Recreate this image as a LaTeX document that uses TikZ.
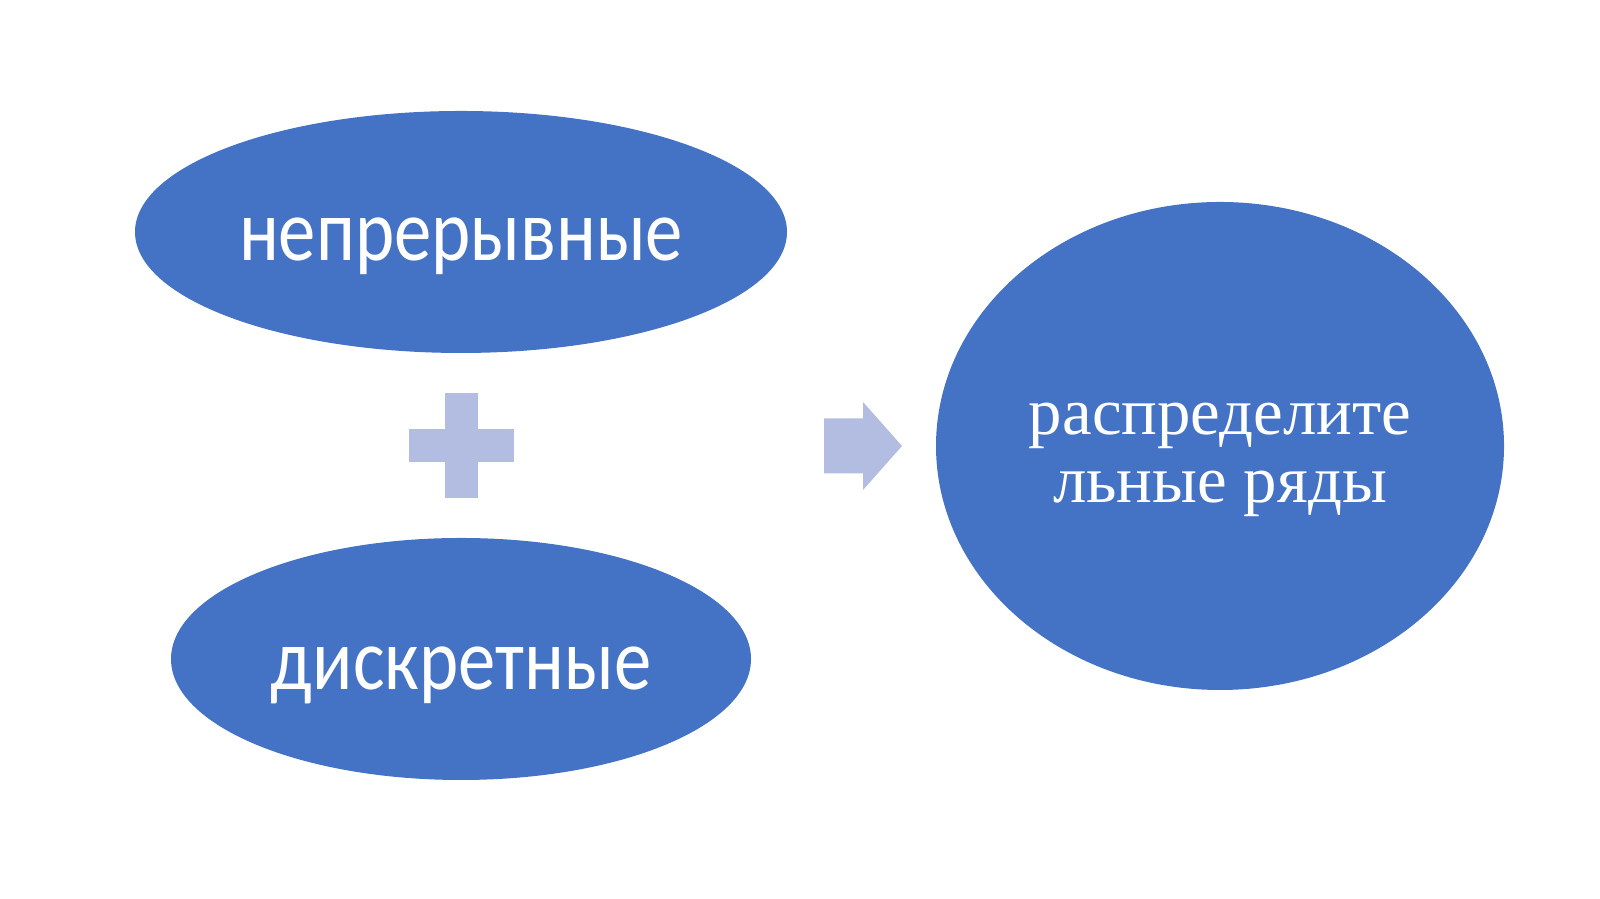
\documentclass[tikz,border=0pt]{standalone}
\usepackage{fontspec}
\setmainfont{Liberation Serif}
\newfontfamily\carlito[FakeStretch=0.85]{Carlito}
\usepackage{tikz}
\usetikzlibrary{shapes.geometric}
\definecolor{blob}{RGB}{68,114,196}
\definecolor{sign}{RGB}{178,189,225}

\begin{document}
\begin{tikzpicture}[every node/.style={ellipse, fill=blob, text=white, inner sep=0pt}]
\useasboundingbox (0,0) rectangle (16,8.99);
% Ellipses
\node[minimum width=6.52cm, minimum height=2.42cm, text height=0.58cm, text depth=0cm, font=\carlito\fontsize{25}{30}\selectfont] (cont) at (4.61,6.67) {непрерывные};
\node[minimum width=5.80cm, minimum height=2.42cm, text height=0.62cm, text depth=0cm, font=\carlito\fontsize{25}{30}\selectfont] (disc) at (4.61,2.40) {дискретные};
\node[minimum width=5.68cm, minimum height=4.88cm, align=center, text height=1.3cm, text depth=0.16cm, font=\fontsize{19}{19.6}\selectfont] (rows) at (12.20,4.53) {распределите\\льные ряды};

% Plus
\coordinate (plus) at (4.61,4.53);
\fill[sign] ([shift={(-0.525,-0.165)}]plus) rectangle ([shift={(0.525,0.165)}]plus);
\fill[sign] ([shift={(-0.165,-0.525)}]plus) rectangle ([shift={(0.165,0.525)}]plus);

% Arrow
\coordinate (arr) at (8.24,4.53);
\fill[sign] (arr) ++(0,0.275) -- ++(0.39,0) -- ++(0,0.165) -- ++(0.39,-0.44)
  -- ++(-0.39,-0.44) -- ++(0,0.165) -- ++(-0.39,0) -- cycle;
\end{tikzpicture}
\end{document}
